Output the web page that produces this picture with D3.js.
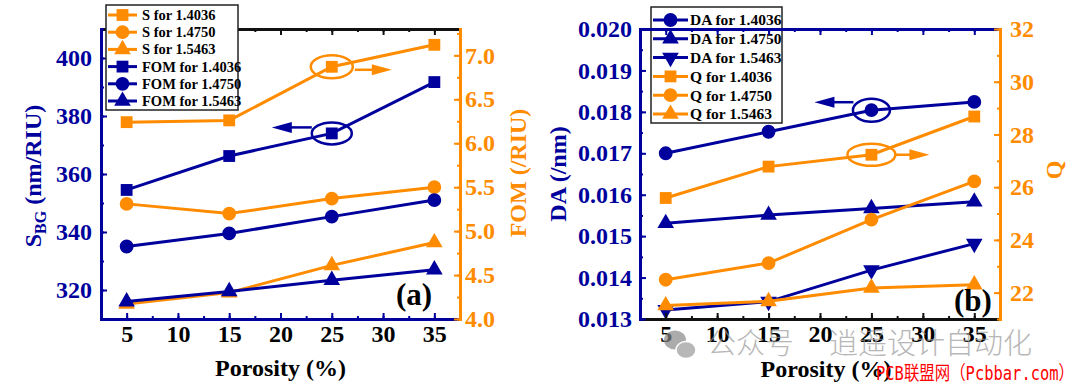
<!DOCTYPE html>
<html>
<head>
<meta charset="utf-8">
<script src="https://cdn.jsdelivr.net/npm/d3@7"></script>
<style>
body{margin:0;background:#fff}
svg{display:block}
text{font-family:"Liberation Serif","Times New Roman",serif;font-weight:bold}
</style>
</head>
<body>
<svg id="chart" width="1080" height="386"></svg>
<script>
var porosity=[5,15,25,35];
var xTicks=[5,10,15,20,25,30,35];

// panel (a)
var legendA=["S for 1.4036","S for 1.4750","S for 1.5463","FOM for 1.4036","FOM for 1.4750","FOM for 1.5463"];
var aOrangeSq=[6.24,6.26,6.87,7.12];   // right axis
var aOrangeCi=[5.31,5.20,5.37,5.50];
var aOrangeTr=[4.17,4.30,4.61,4.87];
var aBlueSq=[354.5,366.2,374.0,391.7]; // left axis
var aBlueCi=[335.0,339.5,345.3,351.0];
var aBlueTr=[316.0,319.5,323.4,327.0];
var aLeftTicks=[320,340,360,380,400];
var aRightTicks=[4.0,4.5,5.0,5.5,6.0,6.5,7.0];

// panel (b)
var legendB=["DA for 1.4036","DA for 1.4750","DA for 1.5463","Q for 1.4036","Q for 1.4750","Q for 1.5463"];
var bBlueCi=[0.01700,0.01752,0.01804,0.01824]; // left axis
var bBlueUp=[0.01531,0.01551,0.01567,0.01583];
var bBlueDn=[0.01322,0.01342,0.01418,0.01482];
var bOrangeSq=[25.59,26.78,27.23,28.68];       // right axis
var bOrangeCi=[22.49,23.12,24.77,26.22];
var bOrangeTr=[21.51,21.67,22.18,22.30];
var bLeftTicks=[0.013,0.014,0.015,0.016,0.017,0.018,0.019,0.020];
var bRightTicks=[22,24,26,28,30,32];

var BLUE="#00009c", ORANGE="#ff8c00";
var svg=d3.select("#chart");

function sym(shape){
	var t=shape=="sq"?d3.symbolSquare:shape=="ci"?d3.symbolCircle:d3.symbolTriangle;
	var s=shape=="sq"?140:shape=="ci"?150:120;
	return d3.symbol().type(t).size(s)();
}
function drawMarker(g,cx,cy,shape,color){
	g.append("path").attr("d",sym(shape)).attr("fill",color)
		.attr("transform","translate("+cx+","+cy+")"+(shape=="dn"?" rotate(180)":""));
}

function drawSeries(g,x,y,vals,shape,color){
	var line=d3.line().x(function(d,i){return x(porosity[i]);}).y(function(d){return y(d);});
	g.append("path").attr("d",line(vals)).attr("fill","none").attr("stroke",color).attr("stroke-width",3);
	vals.forEach(function(v,i){ drawMarker(g,x(porosity[i]),y(v),shape,color); });
}

function styleAxis(a,color,labelColor,size){
	a.select(".domain").attr("stroke",color).attr("stroke-width",3).attr("stroke-linecap","square");
	a.selectAll(".tick line").attr("stroke",color).attr("stroke-width",2);
	a.selectAll(".tick text").attr("fill",labelColor).attr("font-size",size)
		.style("font-family","'Liberation Serif',serif").style("font-weight","bold");
}

function addAxis(g,gen,scale,majors,minors,fmt,pos,color,labelColor,pad){
	var mj=gen(scale).tickValues(majors).tickSize(-6).tickSizeOuter(0).tickPadding(pad).tickFormat(fmt);
	var mn=gen(scale).tickValues(minors).tickSize(-3).tickSizeOuter(0).tickFormat("");
	var a1=g.append("g").attr("transform",pos).call(mn);
	styleAxis(a1,color,labelColor,"24px");
	var a2=g.append("g").attr("transform",pos).call(mj);
	styleAxis(a2,color,labelColor,"24px");
	return a2;
}

function arrow(g,x1,y1,x2,y2,color){
	var dir=x2>x1?1:-1;
	g.append("line").attr("x1",x1).attr("y1",y1).attr("x2",x2-dir*10).attr("y2",y2)
		.attr("stroke",color).attr("stroke-width",2.5);
	g.append("path").attr("fill",color)
		.attr("d","M"+x2+","+y2+"L"+(x2-dir*20)+","+(y2-5.5)+"L"+(x2-dir*20)+","+(y2+5.5)+"Z");
}
function ellipse(g,cx,cy,rx,ry,color){
	g.append("ellipse").attr("cx",cx).attr("cy",cy).attr("rx",rx).attr("ry",ry)
		.attr("fill","none").attr("stroke",color).attr("stroke-width",2.5);
}

function legend(g,box,rowY,step,lx0,lx1,tx,size,labels,shapes,colors){
	g.append("rect").attr("x",box[0]).attr("y",box[1]).attr("width",box[2]).attr("height",box[3])
		.attr("fill","#fff").attr("stroke","#222").attr("stroke-width",1.5);
	labels.forEach(function(l,i){
		var y=rowY+i*step;
		g.append("line").attr("x1",lx0).attr("x2",lx1).attr("y1",y).attr("y2",y)
			.attr("stroke",colors[i]).attr("stroke-width",3);
		drawMarker(g,(lx0+lx1)/2,y,shapes[i],colors[i]);
		g.append("text").attr("x",tx).attr("y",y).attr("dy","0.35em").attr("font-size",size)
			.attr("fill","#000").text(l);
	});
}

var shapes3=["sq","ci","tr"];
var minorX=d3.range(2.5,37.6,2.5);

// ---------- panel (a)
(function(){
	var L=101,R=460,T=29,B=319;
	var g=svg.append("g");
	var x=d3.scaleLinear().domain([2.5,37.5]).range([L,R]);
	var yL=d3.scaleLinear().domain([310,410]).range([B,T]);
	var yR=d3.scaleLinear().domain([4.0,7.3]).range([B,T]);

	[aOrangeSq,aOrangeCi,aOrangeTr].forEach(function(s,i){ drawSeries(g,x,yR,s,shapes3[i],ORANGE); });
	[aBlueSq,aBlueCi,aBlueTr].forEach(function(s,i){ drawSeries(g,x,yL,s,shapes3[i],BLUE); });

	// annotations
	var ox=x(porosity[2]), oy=yR(aOrangeSq[2]);
	ellipse(g,ox,oy,21,11.5,ORANGE); arrow(g,ox+23,oy+3,ox+60,oy+3,ORANGE);
	var bx=x(porosity[2]), by=yL(aBlueSq[2]);
	ellipse(g,bx,by,20,11,BLUE); arrow(g,bx-20,by-6,bx-60,by-6,BLUE);

	addAxis(g,d3.axisTop,x,xTicks,minorX,"", "translate(0,"+T+")","#111","#000",8);
	addAxis(g,d3.axisBottom,x,xTicks,minorX,d3.format("d"),"translate(0,"+B+")",BLUE,"#000",6);
	addAxis(g,d3.axisLeft,yL,aLeftTicks,d3.range(310,411,10),d3.format("d"),"translate("+L+",0)",BLUE,BLUE,9);
	addAxis(g,d3.axisRight,yR,aRightTicks,d3.range(4.0,7.31,0.25),d3.format(".1f"),"translate("+R+",0)",ORANGE,ORANGE,5);

	// titles
	var t1=g.append("text").attr("transform","translate(41,176) rotate(-90)").attr("text-anchor","middle")
		.attr("font-size","24px").attr("fill",BLUE);
	t1.append("tspan").text("S");
	t1.append("tspan").attr("font-size","16px").attr("dy","5").text("BG");
	t1.append("tspan").attr("dy","-5").text(" (nm/RIU)");
	g.append("text").attr("transform","translate(526,173) rotate(-90)").attr("text-anchor","middle")
		.attr("font-size","24px").attr("fill",ORANGE).text("FOM (/RIU)");
	g.append("text").attr("x",(L+R)/2).attr("y",376).attr("text-anchor","middle")
		.attr("font-size","24px").attr("fill","#000").text("Porosity (%)");
	g.append("text").attr("x",396).attr("y",305).attr("font-size","31px").attr("fill","#000").text("(a)");

	legend(g,[106,5,132,105],15,17.2,108,137,142,"14.5px",legendA,
		["sq","ci","tr","sq","ci","tr"],[ORANGE,ORANGE,ORANGE,BLUE,BLUE,BLUE]);
})();

// ---------- panel (b)
(function(){
	var L=640,R=1000,T=29,B=319;
	var g=svg.append("g");
	var x=d3.scaleLinear().domain([2.5,37.5]).range([L,R]);
	var yL=d3.scaleLinear().domain([0.013,0.020]).range([B,T]);
	var yR=d3.scaleLinear().domain([21,32]).range([B,T]);

	legend(g,[651,7,131,116],20,18.8,653,688,690,"15.5px",legendB,
		["ci","tr","dn","sq","ci","tr"],[BLUE,BLUE,BLUE,ORANGE,ORANGE,ORANGE]);

	[bBlueCi,bBlueUp,bBlueDn].forEach(function(s,i){ drawSeries(g,x,yL,s,["ci","tr","dn"][i],BLUE); });
	[bOrangeSq,bOrangeCi,bOrangeTr].forEach(function(s,i){ drawSeries(g,x,yR,s,shapes3[i],ORANGE); });

	var bx=x(porosity[2]), by=yL(bBlueCi[2]);
	ellipse(g,bx,by,18.5,11.5,BLUE); arrow(g,bx-18,by-8,bx-57,by-8,BLUE);
	var ox=x(porosity[2]), oy=yR(bOrangeSq[2]);
	ellipse(g,ox,oy,24,11,ORANGE); arrow(g,ox+24,oy,ox+58,oy,ORANGE);

	addAxis(g,d3.axisTop,x,xTicks,minorX,"", "translate(0,"+T+")",BLUE,"#000",8);
	addAxis(g,d3.axisBottom,x,xTicks,minorX,d3.format("d"),"translate(0,"+B+")","#111","#000",6);
	addAxis(g,d3.axisLeft,yL,bLeftTicks,d3.range(0.013,0.02001,0.0005),d3.format(".3f"),"translate("+L+",0)",BLUE,BLUE,8);
	addAxis(g,d3.axisRight,yR,bRightTicks,d3.range(21,32.01,1),d3.format("d"),"translate("+R+",0)",ORANGE,ORANGE,10);

	g.append("text").attr("transform","translate(566,174) rotate(-90)").attr("text-anchor","middle")
		.attr("font-size","24px").attr("fill",BLUE).text("DA (/nm)");
	g.append("text").attr("transform","translate(1062,170) rotate(-90)").attr("text-anchor","middle")
		.attr("font-size","24px").attr("fill",ORANGE).text("Q");
	g.append("text").attr("x",(L+R)/2+6).attr("y",377).attr("text-anchor","middle")
		.attr("font-size","24px").attr("fill","#000").text("Porosity (%)");
	g.append("text").attr("x",954).attr("y",311).attr("font-size","31px").attr("fill","#000").text("(b)");
})();

// ---------- watermark
var wm=svg.append("g").attr("opacity",0.7);
wm.append("ellipse").attr("cx",675).attr("cy",340).attr("rx",11).attr("ry",9.5).attr("fill","#888");
wm.append("ellipse").attr("cx",686).attr("cy",350).attr("rx",10).attr("ry",8.5).attr("fill","#999").attr("stroke","#fff").attr("stroke-width",1.5);
wm.append("text").attr("x",707).attr("y",354).attr("font-size","29px").attr("fill","#999")
	.style("font-family","'Noto Sans CJK SC',sans-serif").style("font-weight","300").text("公众号");
wm.append("text").attr("x",829).attr("y",354).attr("font-size","29px").attr("fill","#999")
	.style("font-family","'Noto Sans CJK SC',sans-serif").style("font-weight","300").text("逍遥设计自动化");
svg.append("text").attr("x",876).attr("y",380).attr("font-size","19px").attr("fill","#ff0000")
	.attr("textLength",198).attr("lengthAdjust","spacingAndGlyphs")
	.style("font-family","'DejaVu Sans Mono','Noto Sans CJK SC',monospace").style("font-weight","normal")
	.text("PCB联盟网（Pcbbar.com）");
</script>
</body>
</html>
